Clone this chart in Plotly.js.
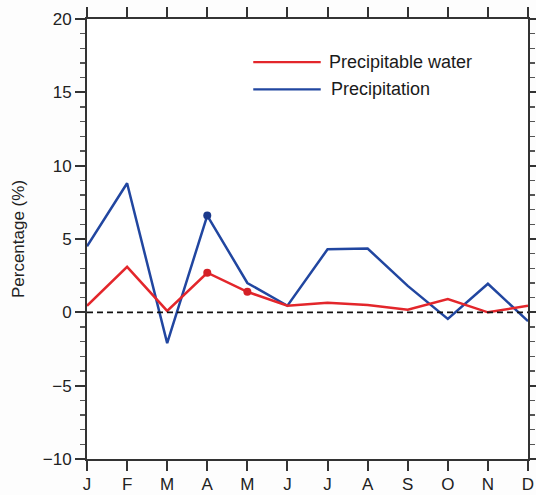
<!DOCTYPE html>
<html>
<head>
<meta charset="utf-8">
<script src="https://cdn.plot.ly/plotly-3.0.1.min.js"></script>
<style>
  html, body { margin: 0; padding: 0; background: #fdfdfd; }
  #chart { width: 536px; height: 495px; }
</style>
</head>
<body>
<div id="chart"></div>
<script>
// Monthly anomaly percentages
const months = ['J', 'F', 'M', 'A', 'M', 'J', 'J', 'A', 'S', 'O', 'N', 'D'];
const monthIndex = [0, 1, 2, 3, 4, 5, 6, 7, 8, 9, 10, 11];
const precipWater = [0.45, 3.1, 0.1, 2.7, 1.4, 0.45, 0.65, 0.5, 0.18, 0.9, 0.0, 0.45];
const precipitation = [4.5, 8.8, -2.1, 6.6, 2.0, 0.45, 4.3, 4.35, 1.8, -0.45, 1.95, -0.6];

// Months whose values are highlighted with a dot
const waterDots = [3, 4];
const precipDots = [3];

const RED = '#e3262b';
const BLUE = '#2146a0';
const AXIS = '#333333';
const FONT = 'Liberation Sans, Arial, sans-serif';

const traces = [
  {
    x: monthIndex, y: precipitation, mode: 'lines', name: 'Precipitation',
    line: { color: BLUE, width: 2.5 }, showlegend: false
  },
  {
    x: monthIndex, y: precipWater, mode: 'lines', name: 'Precipitable water',
    line: { color: RED, width: 2.5 }, showlegend: false
  },
  {
    x: precipDots, y: precipDots.map(i => precipitation[i]), mode: 'markers',
    marker: { color: '#1b3a8c', size: 8 }, showlegend: false
  },
  {
    x: waterDots, y: waterDots.map(i => precipWater[i]), mode: 'markers',
    marker: { color: '#d42026', size: 8 }, showlegend: false
  }
];

// Hand-drawn legend: long line samples with labels
const legendItems = [
  { label: 'Precipitable water', color: RED, y: 0.902, tx: 0.545 },
  { label: 'Precipitation', color: BLUE, y: 0.840, tx: 0.548 }
];

const shapes = [
  {
    type: 'line', xref: 'paper', yref: 'y', x0: 0, x1: 1, y0: 0, y1: 0,
    line: { color: '#111', width: 1.6, dash: '6px,4px' }
  }
].concat(legendItems.map(it => ({
  type: 'line', xref: 'paper', yref: 'paper',
  x0: 0.377, x1: 0.530, y0: it.y, y1: it.y,
  line: { color: it.color, width: 2.2 }
})));

const annotations = legendItems.map(it => ({
  xref: 'paper', yref: 'paper', x: it.tx, y: it.y,
  xanchor: 'left', yanchor: 'middle', showarrow: false,
  text: it.label, font: { family: FONT, size: 18, color: '#1a1a1a' }
}));

const layout = {
  width: 536, height: 495,
  margin: { l: 87, r: 8, t: 19, b: 36, pad: 0 },
  paper_bgcolor: '#fdfdfd', plot_bgcolor: '#ffffff',
  font: { family: FONT, color: '#222' },
  showlegend: false,
  xaxis: {
    range: [0, 11], tickmode: 'array', tickvals: monthIndex, ticktext: months,
    showgrid: false, zeroline: false,
    showline: true, linecolor: AXIS, linewidth: 2, mirror: 'ticks',
    ticks: 'outside', ticklen: 10, tickwidth: 2, tickcolor: AXIS,
    tickfont: { family: FONT, size: 17, color: '#222' }, ticklabelstandoff: -1
  },
  yaxis: {
    range: [-10, 20], tickmode: 'linear', tick0: 0, dtick: 5,
    showgrid: false, zeroline: false,
    showline: true, linecolor: AXIS, linewidth: 2, mirror: 'ticks',
    ticks: 'outside', ticklen: 10, tickwidth: 2, tickcolor: AXIS,
    minor: { dtick: 1, ticks: 'outside', ticklen: 5, tickwidth: 1.5, tickcolor: '#555', showgrid: false },
    tickfont: { family: FONT, size: 17, color: '#222' },
    title: { text: 'Percentage (%)', font: { family: FONT, size: 17, color: '#222' }, standoff: 14 }
  },
  shapes: shapes,
  annotations: annotations
};

Plotly.newPlot('chart', traces, layout, { displayModeBar: false, staticPlot: true });
</script>
</body>
</html>
